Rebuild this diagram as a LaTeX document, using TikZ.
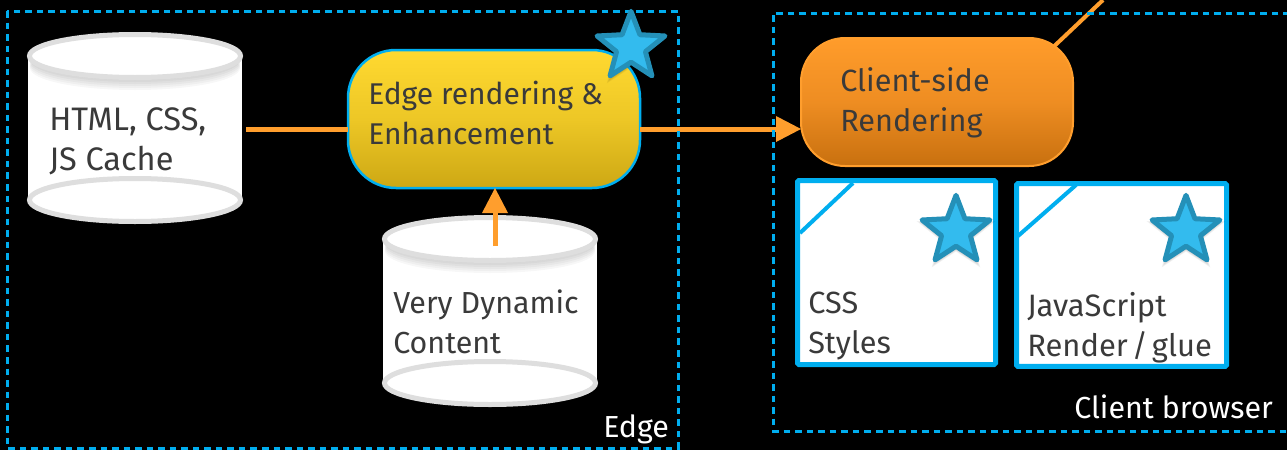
\documentclass[tikz,border=0pt]{standalone}
\usepackage{fontspec}
\setmainfont{Fira Sans}
\usetikzlibrary{arrows.meta,shapes.geometric}
\definecolor{framec}{HTML}{00AEEF}
\definecolor{linkc}{HTML}{FF9E2D}
\definecolor{inkc}{HTML}{3A3A3A}
\definecolor{rimc}{HTML}{DEDEDE}
\definecolor{starfill}{HTML}{33BBEE}
\definecolor{starline}{HTML}{2490B8}
\definecolor{yelltop}{HTML}{FFD930}
\definecolor{yellmid}{HTML}{EDC726}
\definecolor{yellbot}{HTML}{CDA814}
\definecolor{orantop}{HTML}{FF9C2B}
\definecolor{oranmid}{HTML}{EE8D22}
\definecolor{oranbot}{HTML}{C8700F}
\tikzset{
  zone/.style={draw=framec,line width=2.25pt,dash pattern=on 4.9pt off 3.75pt},
  link/.style={draw=linkc,line width=3.75pt},
  linktip/.style={link,-{Triangle[length=18.75pt,width=19.5pt,fill=linkc,line width=0pt]}},
  rim/.style={draw=rimc,fill=white,line width=3.75pt},
  flow/.style={rectangle,inner sep=0pt,outer sep=0pt},
  card/.style={rectangle,draw=framec,fill=white,line width=3.75pt,inner sep=0pt,outer sep=0pt,rounded corners=1pt},
  mark5/.style={star,star points=5,star point ratio=2.35,draw=starline,fill=starfill,line width=3.75pt,line join=round,minimum size=53.5pt,inner sep=0pt},
  mark5shade/.style={star,star points=5,star point ratio=2.35,fill=black,opacity=.05,minimum size=#1,inner sep=0pt},
  dark/.style={text=inkc,font=\fontsize{#1}{30pt}\selectfont,align=left,inner sep=0pt,anchor=base west},
  dark/.default=23pt,
  pale/.style={text=white,font=\fontsize{22.8pt}{30pt}\selectfont,inner sep=0pt,anchor=base west},
}
\newcommand{\drum}[3]{% centre x, top ellipse y, bottom ellipse y
  \fill[white] (#1-107,#2) rectangle (#1+107,#3);
  \begin{scope}
    \clip (#1-107,#2) rectangle (#1+107,#3);
    \foreach \d in {2,4,...,12}{\fill[black,opacity=.03] (#1,#2+\d) ellipse [x radius=105,y radius=22];}
  \end{scope}
  \draw[rim] (#1,#2) ellipse [x radius=105.5,y radius=21.5];
  \draw[rim] (#1,#3) ellipse [x radius=105.5,y radius=21.5];
}
\begin{document}
\begin{tikzpicture}[x=.75pt,y=-.75pt]
\useasboundingbox (0,0) rectangle (1287,450);
\clip (0,0) rectangle (1287,450);
\fill[black] (0,0) rectangle (1287,450);

% stores
\drum{135}{56}{200}
\drum{490}{239}{383}
\node[minimum width=162pt,minimum height=144pt,inner sep=0pt,outer sep=0pt] (cache) at (136,129) {};
\node[minimum width=162pt,minimum height=144pt,inner sep=0pt,outer sep=0pt] (dynamic) at (490,311) {};
\coordinate (dynout) at (495,246);
\coordinate (farend) at (1103,0);
\coordinate (rendout) at (1048,52);

% connector going out of the picture, behind the box
\draw[draw=linkc,line width=3pt] (rendout) -- (farend);

% flow boxes
\node[flow,draw=framec,line width=1.875pt,rounded corners=36pt,minimum width=219pt,minimum height=103.5pt,
  top color=yelltop,bottom color=yellbot,middle color=yellmid] (edge) at (494,119) {};
\node[flow,draw=linkc,line width=1.5pt,rounded corners=33pt,minimum width=204pt,minimum height=96pt,
  top color=orantop,bottom color=oranbot,middle color=oranmid] (render) at (937,102) {};

% connectors
\draw[link] ([xshift=1.5pt]cache.east) -- (edge.west |- cache.east);
\draw[linktip] (edge.east |- cache.east) -- (render.west |- cache.east);
\draw[linktip] (dynout) -- (dynout |- edge.south);

% zones
\draw[zone] (7,11) rectangle (678,448);
\draw[zone] (1290,13) -- (773,13) -- (773,431) -- (1290,431);

% cards
\node[card,minimum width=148.5pt,minimum height=138pt] (csscard) at (896.5,272.5) {};
\node[card,minimum width=157.5pt,minimum height=137pt] (jscard) at (1121.5,275) {};
\coordinate (cssa) at (800,233);
\coordinate (cssb) at (853,183);
\coordinate (jsa) at (1018,236);
\coordinate (jsb) at (1076,185);
\draw[draw=framec,line width=3pt] (cssa) -- (cssb);
\draw[draw=framec,line width=3pt] (jsa) -- (jsb);

% star shadows
\foreach \s in {62pt,59pt,56pt,53pt}{
  \node[mark5shade=\s] at (631,50) {};
  \node[mark5shade=\s] at (956,234) {};
  \node[mark5shade=\s] at (1186,234) {};
}
% stars
\node[mark5] (staredge) at (631,47) {};
\node[mark5] (starcss) at (956,231) {};
\node[mark5] (starjs) at (1186,231) {};

% labels
\node[dark=24.4pt] (t1) at (49,170) {HTML, CSS,\\JS Cache};
\node[dark=22.5pt] (t2) at (368,144) {Edge rendering \&\\Enhancement};
\node[dark=22.8pt] (t3) at (393,353) {Very Dynamic\\Content};
\node[dark=23pt] (t4) at (840,131) {Client-side\\Rendering};
\node[dark=23pt] (t5) at (808,353) {CSS\\Styles};
\node[dark=23.2pt] (t6) at (1027,356) {JavaScript\\\spaceskip=.13em Render / glue};
\node[pale] (t7) at (603,437) {Edge};
\node[pale] (t8) at (1074,418) {Client browser};
\end{tikzpicture}
\end{document}
